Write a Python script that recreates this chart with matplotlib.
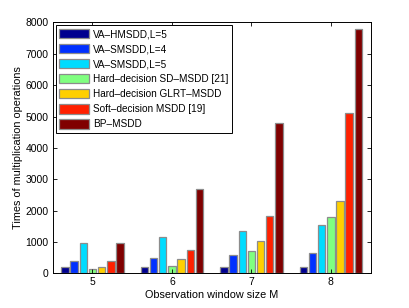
import numpy as np
import matplotlib.pyplot as plt
from matplotlib.ticker import MultipleLocator

plt.rcParams['font.family'] = ['Liberation Sans', 'DejaVu Sans']

# observation window sizes
windows = [5, 6, 7, 8]

# multiplication counts per scheme
va_hmsdd_l5 = [200, 200, 200, 200]
va_smsdd_l4 = [400, 480, 570, 650]
va_smsdd_l5 = [960, 1150, 1350, 1530]
hard_sd_msdd = [130, 230, 700, 1800]
hard_glrt_msdd = [200, 450, 1020, 2300]
soft_msdd = [380, 730, 1820, 5120]
bp_msdd = [960, 2700, 4800, 7800]

series = [va_hmsdd_l5, va_smsdd_l4, va_smsdd_l5, hard_sd_msdd,
          hard_glrt_msdd, soft_msdd, bp_msdd]
names = ['VA–HMSDD,L=5', 'VA–SMSDD,L=4', 'VA–SMSDD,L=5',
         'Hard–decision SD–MSDD [21]', 'Hard–decision GLRT–MSDD',
         'Soft–decision MSDD [19]', 'BP–MSDD']
colors = ['#00008f', '#0030ff', '#00dcff', '#80ff80',
          '#ffcf00', '#ff2000', '#800000']

fig = plt.figure(figsize=(4.09, 3.08), dpi=100)
ax = fig.add_axes([0.129, 0.113, 0.777, 0.814])

x = np.array(windows, dtype=float)
slot = 0.1155
width = 0.093
for i, (vals, name, c) in enumerate(zip(series, names, colors)):
    ax.bar(x + (i - 3) * slot, vals, width, color=c, edgecolor='#8c8c8c',
           linewidth=0.9, label=name)

ax.set_xlim(4.5, 8.5)
ax.set_ylim(0, 8000)
ax.set_xticks(windows)
ax.yaxis.set_major_locator(MultipleLocator(1000))
ax.tick_params(direction='in', top=True, right=True, labelsize=7.5,
               length=3, width=0.6, pad=3)
for s in ax.spines.values():
    s.set_linewidth(0.7)

ax.set_xlabel('Observation window size M', fontsize=7.8, labelpad=2)
ax.set_ylabel('Times of multiplication operations', fontsize=7.8, labelpad=2)

leg = ax.legend(loc='upper left', fontsize=7.2, handlelength=3.0,
                handleheight=1.05, labelspacing=0.5, borderaxespad=0.3,
                borderpad=0.35, handletextpad=0.4, fancybox=False,
                framealpha=1)
leg.get_frame().set_edgecolor('black')
leg.get_frame().set_linewidth(0.7)

fig.savefig('out.png', dpi=100)
